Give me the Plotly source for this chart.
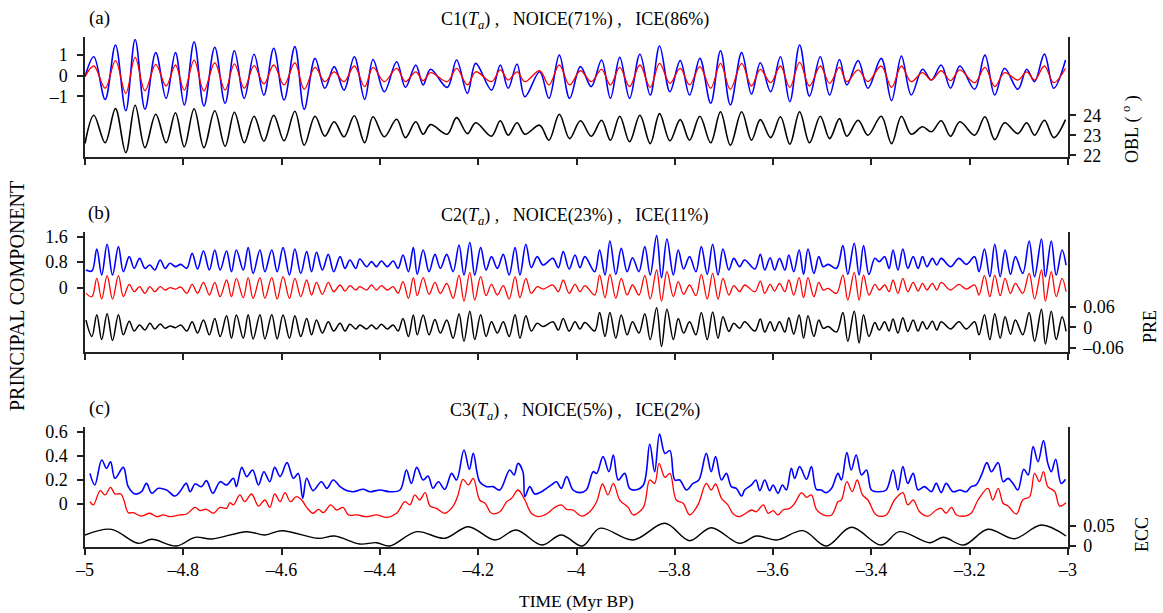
import plotly.graph_objects as go

# ---------------- Panel (a): C1 vs obliquity ----------------
A_TIME = [-5.000, -4.982, -4.959, -4.938, -4.917, -4.898, -4.878, -4.856, -4.835, -4.816, -4.798, -4.778, -4.758, -4.736, -4.715, -4.696, -4.676, -4.656, -4.636, -4.616, -4.595, -4.573, -4.554, -4.532, -4.512, -4.493, -4.473, -4.452, -4.431, -4.414, -4.391, -4.366, -4.348, -4.327, -4.312, -4.297, -4.263, -4.244, -4.222, -4.205, -4.173, -4.155, -4.139, -4.121, -4.105, -4.075, -4.056, -4.035, -4.014, -3.992, -3.970, -3.949, -3.931, -3.912, -3.892, -3.871, -3.850, -3.831, -3.810, -3.789, -3.770, -3.749, -3.727, -3.707, -3.687, -3.664, -3.644, -3.626, -3.605, -3.585, -3.566, -3.546, -3.526, -3.504, -3.485, -3.465, -3.450, -3.427, -3.407, -3.380, -3.359, -3.339, -3.319, -3.296, -3.278, -3.258, -3.239, -3.220, -3.190, -3.169, -3.149, -3.129, -3.102, -3.084, -3.068, -3.048, -3.029, -3.005]
A_OBL = [22.58, 24.00, 22.62, 24.33, 22.13, 24.50, 22.38, 24.05, 22.62, 24.12, 22.42, 24.32, 22.38, 24.22, 22.45, 24.15, 22.62, 23.95, 22.70, 24.00, 22.72, 24.20, 22.50, 23.95, 22.95, 23.67, 22.92, 23.97, 22.62, 23.92, 22.92, 23.80, 22.88, 23.67, 23.05, 23.53, 23.05, 23.88, 23.08, 23.62, 22.95, 23.72, 23.00, 23.62, 23.05, 23.50, 22.75, 24.05, 22.83, 23.72, 22.95, 23.75, 22.75, 23.95, 22.67, 24.00, 22.58, 24.08, 22.72, 23.78, 22.75, 23.95, 22.62, 24.17, 22.50, 24.17, 22.75, 23.78, 22.88, 23.92, 22.55, 24.17, 22.62, 23.95, 22.83, 23.83, 22.95, 23.75, 23.00, 23.95, 22.58, 23.95, 23.05, 23.42, 23.17, 23.72, 22.95, 23.67, 23.00, 23.92, 22.78, 23.62, 23.08, 23.62, 23.00, 23.75, 22.88, 23.78]
A_ICE = [-0.05, 0.47, -0.61, 0.73, -0.86, 0.89, -0.73, 0.55, -0.50, 0.52, -0.70, 0.76, -0.73, 0.63, -0.70, 0.57, -0.61, 0.49, -0.40, 0.52, -0.45, 0.63, -0.66, 0.40, -0.29, 0.19, -0.29, 0.47, -0.53, 0.40, -0.29, 0.36, -0.29, 0.19, -0.24, 0.15, -0.29, 0.36, -0.45, 0.19, -0.29, 0.28, -0.21, 0.19, -0.29, 0.24, -0.45, 0.52, -0.45, 0.24, -0.29, 0.31, -0.45, 0.40, -0.53, 0.52, -0.57, 0.60, -0.37, 0.36, -0.45, 0.44, -0.61, 0.60, -0.66, 0.60, -0.50, 0.31, -0.34, 0.47, -0.57, 0.65, -0.50, 0.47, -0.37, 0.40, -0.29, 0.28, -0.29, 0.47, -0.57, 0.47, -0.29, 0.15, -0.21, 0.24, -0.24, 0.28, -0.34, 0.40, -0.53, 0.15, -0.21, 0.19, -0.21, 0.47, -0.34, 0.36]
A_NOICE = [-0.05, 0.92, -1.15, 1.49, -1.70, 1.76, -1.63, 1.12, -1.10, 1.12, -1.42, 1.65, -1.47, 1.38, -1.34, 1.21, -1.10, 1.04, -0.94, 1.33, -1.18, 1.41, -1.63, 0.84, -0.61, 0.44, -0.70, 0.92, -1.15, 0.79, -0.78, 0.68, -0.57, 0.52, -0.45, 0.31, -0.57, 0.76, -0.86, 0.60, -0.70, 0.52, -0.61, 0.57, -1.02, 0.19, -1.10, 1.00, -1.10, 0.44, -0.53, 0.76, -1.10, 0.89, -1.10, 1.04, -0.94, 1.44, -0.78, 0.73, -0.94, 0.84, -1.34, 1.21, -1.42, 1.12, -0.89, 0.63, -0.78, 0.92, -1.26, 1.49, -0.99, 0.92, -0.94, 0.79, -0.45, 0.73, -0.61, 0.84, -1.21, 0.95, -0.94, 0.31, -0.21, 0.52, -0.61, 0.47, -0.66, 1.00, -0.94, 0.36, -0.66, 0.31, -0.29, 1.05, -0.61, 0.76]

# ---------------- Panel (b): C2 vs precession ----------------
B_TIME = [-4.998, -4.986, -4.976, -4.966, -4.955, -4.944, -4.932, -4.922, -4.910, -4.900,
          -4.889, -4.878, -4.868, -4.858, -4.847, -4.837, -4.827, -4.816, -4.805, -4.793,
          -4.782, -4.771, -4.759, -4.747, -4.736, -4.725, -4.712, -4.702, -4.692, -4.678,
          -4.668, -4.658, -4.644, -4.634, -4.620, -4.609, -4.597, -4.584, -4.573, -4.561,
          -4.549, -4.539, -4.529, -4.517, -4.505, -4.494, -4.481, -4.471, -4.461, -4.449,
          -4.441, -4.427, -4.417, -4.407, -4.397, -4.385, -4.373, -4.363, -4.353, -4.342,
          -4.332, -4.324, -4.312, -4.300, -4.288, -4.277, -4.264, -4.251, -4.239, -4.229,
          -4.217, -4.207, -4.195, -4.184, -4.173, -4.161, -4.149, -4.137, -4.125, -4.115,
          -4.103, -4.092, -4.080, -4.068, -4.048, -4.037, -4.027, -4.015, -4.003, -3.993,
          -3.983, -3.963, -3.953, -3.942, -3.932, -3.920, -3.909, -3.897, -3.886, -3.873,
          -3.861, -3.850, -3.837, -3.827, -3.816, -3.803, -3.793, -3.782, -3.770, -3.757,
          -3.746, -3.734, -3.723, -3.712, -3.702, -3.690, -3.680, -3.668, -3.658, -3.637,
          -3.626, -3.617, -3.606, -3.597, -3.587, -3.576, -3.568, -3.558, -3.547, -3.538,
          -3.529, -3.517, -3.507, -3.498, -3.488, -3.471, -3.458, -3.448, -3.435, -3.425,
          -3.416, -3.405, -3.393, -3.384, -3.373, -3.364, -3.356, -3.346, -3.336, -3.326,
          -3.315, -3.305, -3.296, -3.287, -3.276, -3.267, -3.258, -3.239, -3.222, -3.207,
          -3.190, -3.181, -3.170, -3.159, -3.149, -3.138, -3.128, -3.117, -3.107, -3.092,
          -3.079, -3.068, -3.054, -3.046, -3.034, -3.024, -3.012, -3.004]
B_ICE = [-0.178, -0.282, 0.293, -0.356, 0.377, -0.356, 0.377, -0.282, 0.105, -0.126,
         0.031, -0.178, 0.031, -0.126, 0.031, -0.073, 0.0, -0.042, 0.021, -0.178,
         0.105, -0.178, 0.167, -0.230, 0.167, -0.282, 0.241, -0.282, 0.293, -0.314,
         0.314, -0.335, 0.314, -0.335, 0.314, -0.356, 0.345, -0.335, 0.293, -0.282,
         0.241, -0.230, 0.167, -0.209, 0.167, -0.126, 0.084, -0.105, 0.063, -0.073,
         0.031, -0.073, 0.084, -0.073, 0.063, -0.073, 0.031, -0.178, 0.188, -0.335,
         0.314, -0.251, 0.314, -0.209, 0.167, -0.178, 0.136, -0.335, 0.397, -0.418,
         0.481, -0.387, 0.345, -0.251, 0.105, -0.230, 0.063, -0.356, 0.345, -0.314,
         0.293, -0.178, 0.031, -0.042, 0.084, -0.126, 0.241, -0.178, 0.105, -0.126,
         0.063, -0.230, 0.397, -0.314, 0.418, -0.335, 0.293, -0.230, 0.084, -0.230,
         0.377, -0.356, 0.554, -0.418, 0.502, -0.282, 0.188, -0.209, 0.084, -0.251,
         0.418, -0.356, 0.450, -0.356, 0.293, -0.230, 0.063, -0.126, 0.084, -0.126,
         0.209, -0.178, 0.105, -0.105, 0.136, -0.126, 0.241, -0.230, 0.314, -0.314,
         0.314, -0.282, 0.167, -0.073, -0.021, -0.178, 0.397, -0.387, 0.481, -0.387,
         0.397, -0.230, 0.105, -0.073, 0.084, -0.126, 0.241, -0.178, 0.293, -0.126,
         0.167, -0.105, 0.136, -0.073, 0.136, -0.073, 0.167, -0.073, 0.105, -0.042,
         0.084, -0.230, 0.377, -0.282, 0.397, -0.251, 0.293, -0.178, 0.136, -0.178,
         0.450, -0.356, 0.554, -0.418, 0.502, -0.282, 0.293, -0.126]
B_PRE = [0.021, -0.027, 0.037, -0.036, 0.040, -0.039, 0.037, -0.022, 0.018, -0.011,
         0.007, -0.008, 0.012, -0.005, 0.010, -0.003, 0.004, -0.001, 0.007, -0.011,
         0.016, -0.017, 0.021, -0.022, 0.026, -0.027, 0.034, -0.032, 0.036, -0.032,
         0.037, -0.034, 0.037, -0.034, 0.037, -0.034, 0.036, -0.032, 0.034, -0.027,
         0.026, -0.022, 0.021, -0.017, 0.016, -0.011, 0.012, -0.011, 0.009, -0.005,
         0.007, -0.005, 0.007, -0.005, 0.009, -0.005, 0.007, -0.011, 0.026, -0.027,
         0.036, -0.022, 0.036, -0.022, 0.023, -0.017, 0.021, -0.032, 0.040, -0.041,
         0.047, -0.036, 0.037, -0.027, 0.016, -0.017, 0.016, -0.027, 0.037, -0.032,
         0.034, -0.011, 0.012, 0.002, 0.016, -0.008, 0.026, -0.011, 0.016, -0.005,
         0.014, -0.011, 0.043, -0.027, 0.043, -0.032, 0.036, -0.022, 0.016, -0.017,
         0.040, -0.036, 0.057, -0.056, 0.053, -0.036, 0.026, -0.017, 0.016, -0.022,
         0.043, -0.036, 0.045, -0.032, 0.031, -0.012, 0.012, -0.003, 0.016, -0.011,
         0.024, -0.014, 0.016, -0.011, 0.016, -0.014, 0.028, -0.020, 0.036, -0.032,
         0.034, -0.027, 0.021, -0.003, 0.002, -0.014, 0.043, -0.041, 0.047, -0.046,
         0.037, -0.027, 0.014, -0.008, 0.016, -0.011, 0.024, -0.017, 0.028, -0.012,
         0.021, -0.011, 0.016, -0.005, 0.018, -0.008, 0.016, -0.005, 0.016, -0.005,
         0.016, -0.022, 0.037, -0.036, 0.040, -0.032, 0.031, -0.020, 0.021, -0.022,
         0.043, -0.041, 0.053, -0.049, 0.047, -0.036, 0.031, -0.012]
B_NOICE = [0.554, 0.523, 1.213, 0.397, 1.360, 0.397, 1.287, 0.502, 0.973, 0.607,
           0.920, 0.607, 0.711, 0.554, 0.868, 0.607, 0.764, 0.659, 0.732, 0.607,
           1.077, 0.586, 1.151, 0.554, 1.182, 0.554, 1.151, 0.502, 1.182, 0.554,
           1.255, 0.450, 1.182, 0.502, 1.182, 0.502, 1.255, 0.397, 1.213, 0.450,
           1.130, 0.502, 1.109, 0.554, 1.046, 0.502, 0.973, 0.607, 0.868, 0.607,
           0.900, 0.659, 0.816, 0.659, 0.837, 0.659, 0.837, 0.607, 1.025, 0.502,
           1.255, 0.418, 1.182, 0.502, 1.046, 0.607, 1.046, 0.502, 1.339, 0.397,
           1.423, 0.397, 1.255, 0.554, 0.973, 0.607, 1.046, 0.397, 1.255, 0.397,
           1.360, 0.628, 0.973, 0.711, 0.920, 0.628, 1.130, 0.586, 1.025, 0.628,
           0.973, 0.502, 1.182, 0.397, 1.464, 0.418, 1.234, 0.502, 0.941, 0.502,
           1.287, 0.397, 1.632, 0.314, 1.527, 0.397, 1.182, 0.586, 0.973, 0.502,
           1.287, 0.418, 1.360, 0.397, 1.213, 0.554, 0.920, 0.659, 0.868, 0.586,
           1.046, 0.554, 0.941, 0.554, 0.920, 0.554, 1.025, 0.502, 1.182, 0.418,
           1.213, 0.450, 0.973, 0.659, 0.732, 0.607, 1.318, 0.418, 1.391, 0.397,
           1.318, 0.418, 0.920, 0.816, 0.973, 0.607, 1.182, 0.554, 1.213, 0.607,
           0.973, 0.607, 0.973, 0.659, 0.920, 0.711, 0.920, 0.659, 0.920, 0.732,
           0.973, 0.502, 1.213, 0.345, 1.360, 0.345, 1.182, 0.418, 0.973, 0.450,
           1.464, 0.345, 1.527, 0.345, 1.464, 0.397, 1.182, 0.711]

# ---------------- Panel (c): C3 vs eccentricity ----------------
C_ICE_T = [-4.990, -4.983, -4.969, -4.959, -4.948, -4.939, -4.927, -4.921, -4.912, -4.902, -4.885, -4.868, -4.854, -4.841, -4.827, -4.807, -4.793, -4.776, -4.766, -4.753, -4.739, -4.725, -4.712, -4.705, -4.698, -4.685, -4.675, -4.661, -4.647, -4.634, -4.624, -4.614, -4.603, -4.593, -4.582, -4.570, -4.559, -4.549, -4.536, -4.525, -4.515, -4.500, -4.488, -4.475, -4.464, -4.447, -4.427, -4.407, -4.386, -4.366, -4.349, -4.339,
           -4.329, -4.319, -4.308, -4.298, -4.285, -4.268, -4.251, -4.241, -4.231, -4.220, -4.210, -4.197, -4.186, -4.173, -4.156, -4.142, -4.132, -4.119, -4.105, -4.092, -4.078, -4.061, -4.044, -4.031, -4.020, -4.007, -3.990, -3.973, -3.959, -3.947, -3.936, -3.925, -3.912, -3.895, -3.885, -3.864, -3.851, -3.841, -3.832, -3.820, -3.810, -3.797, -3.783, -3.770, -3.753, -3.736, -3.726, -3.717, -3.705, -3.692, -3.681, -3.668,
           -3.658, -3.644, -3.634, -3.620, -3.610, -3.600, -3.590, -3.580, -3.566, -3.556, -3.542, -3.532, -3.522, -3.512, -3.498, -3.481, -3.468, -3.461, -3.450, -3.439, -3.429, -3.418, -3.407, -3.390, -3.370, -3.353, -3.336, -3.326, -3.315, -3.302, -3.285, -3.268, -3.258, -3.248, -3.237, -3.227, -3.210, -3.197, -3.183, -3.163, -3.153, -3.142, -3.132, -3.122, -3.105, -3.092, -3.078, -3.068, -3.058, -3.050, -3.041, -3.027, -3.017, -3.004]
C_ICE = [0.019, -0.008, 0.111, 0.075, 0.138, 0.083, 0.083, 0.033, -0.072, -0.072, -0.100, -0.077, -0.105, -0.091, -0.105, -0.091, -0.083, -0.028, -0.055, -0.044, -0.077, -0.028, -0.036, 0.011, -0.008, 0.075, 0.019, 0.083, -0.017, 0.033, -0.028, 0.083, 0.019, 0.094, 0.019, 0.061, 0.033, -0.028, -0.077, -0.044, -0.072, -0.008, -0.050, -0.028, -0.091, -0.091, -0.105, -0.091, -0.111, -0.077, 0.019, -0.008,
         0.075, 0.033, 0.094, -0.017, -0.036, -0.077, -0.017, 0.075, 0.205, 0.158, 0.213, 0.033, 0.006, -0.077, -0.064, 0.019, 0.047, 0.116, 0.033, -0.077, -0.105, -0.083, -0.028, -0.008, -0.044, -0.050, -0.100, -0.064, 0.019, 0.166, 0.075, 0.171, 0.033, -0.028, -0.091, -0.028, 0.199, 0.171, 0.337, 0.221, 0.254, 0.033, 0.006, -0.091, -0.008, 0.171, 0.116, 0.166, 0.047, -0.008, -0.083, -0.105,
         -0.083, -0.050, -0.064, -0.008, -0.077, -0.055, -0.091, -0.050, -0.036, 0.006, 0.094, 0.055, 0.075, -0.044, -0.091, -0.091, 0.019, 0.033, 0.185, 0.102, 0.199, 0.075, 0.033, -0.091, -0.091, 0.033, 0.094, -0.008, 0.033, -0.064, -0.100, -0.050, -0.036, -0.077, -0.028, -0.091, -0.100, -0.077, 0.033, 0.130, 0.033, 0.130, 0.006, -0.017, -0.083, 0.033, 0.061, 0.254, 0.185, 0.268, 0.144, 0.102, -0.017, 0.011]
C_NOICE_T = [-4.990, -4.980, -4.966, -4.956, -4.948, -4.939, -4.922, -4.912, -4.898, -4.885, -4.875, -4.864, -4.851, -4.834, -4.817, -4.807, -4.794, -4.786, -4.776, -4.763, -4.753, -4.740, -4.725, -4.712, -4.698, -4.692, -4.681, -4.671, -4.659, -4.647, -4.636, -4.624, -4.614, -4.603, -4.589, -4.576, -4.566, -4.557, -4.549, -4.536, -4.519, -4.508, -4.495, -4.481, -4.468, -4.454, -4.434, -4.420, -4.400, -4.380, -4.359, -4.346, -4.336,
             -4.325, -4.312, -4.302, -4.292, -4.281, -4.268, -4.254, -4.244, -4.229, -4.218, -4.210, -4.197, -4.183, -4.170, -4.156, -4.136, -4.127, -4.119, -4.109, -4.105, -4.095, -4.085, -4.071, -4.061, -4.051, -4.041, -4.031, -4.020, -4.007, -3.993, -3.980, -3.966, -3.959, -3.946, -3.934, -3.925, -3.915, -3.902, -3.892, -3.881, -3.864, -3.851, -3.841, -3.831, -3.820, -3.810, -3.800, -3.790, -3.776, -3.763, -3.751, -3.736, -3.726, -3.717, -3.705, -3.695, -3.685, -3.675, -3.664,
             -3.658, -3.644, -3.635, -3.627, -3.617, -3.607, -3.600, -3.590, -3.581, -3.573, -3.563, -3.556, -3.546, -3.532, -3.522, -3.512, -3.502, -3.492, -3.481, -3.468, -3.461, -3.450, -3.441, -3.431, -3.420, -3.410, -3.400, -3.387, -3.370, -3.356, -3.346, -3.336, -3.326, -3.315, -3.305, -3.292, -3.278, -3.268, -3.258, -3.248, -3.234, -3.220, -3.207, -3.197, -3.187, -3.176, -3.165, -3.156, -3.142, -3.132, -3.122, -3.112, -3.102, -3.090, -3.081, -3.071, -3.061, -3.050, -3.041, -3.034, -3.025, -3.014, -3.005]
C_NOICE = [0.254, 0.158, 0.365, 0.296, 0.351, 0.213, 0.304, 0.144, 0.083, 0.102, 0.171, 0.089, 0.130, 0.116, 0.066, 0.102, 0.171, 0.102, 0.166, 0.144, 0.194, 0.089, 0.185, 0.158, 0.213, 0.144, 0.304, 0.227, 0.282, 0.158, 0.268, 0.185, 0.304, 0.227, 0.343, 0.213, 0.254, 0.047, 0.213, 0.111, 0.185, 0.130, 0.199, 0.144, 0.111, 0.102, 0.122, 0.102, 0.116, 0.102, 0.116, 0.282, 0.171,
           0.304, 0.199, 0.232, 0.130, 0.185, 0.122, 0.254, 0.199, 0.448, 0.288, 0.420, 0.185, 0.144, 0.144, 0.116, 0.282, 0.241, 0.337, 0.268, 0.061, 0.144, 0.083, 0.102, 0.130, 0.158, 0.185, 0.130, 0.227, 0.116, 0.094, 0.116, 0.268, 0.254, 0.393, 0.268, 0.407, 0.199, 0.254, 0.130, 0.116, 0.158, 0.498, 0.268, 0.581, 0.420, 0.443, 0.199, 0.199, 0.116, 0.171, 0.199, 0.420, 0.268, 0.393, 0.199, 0.254, 0.144, 0.130, 0.066,
           0.116, 0.158, 0.199, 0.111, 0.199, 0.111, 0.158, 0.089, 0.158, 0.116, 0.296, 0.213, 0.310, 0.205, 0.310, 0.122, 0.116, 0.094, 0.130, 0.254, 0.199, 0.426, 0.282, 0.407, 0.241, 0.282, 0.116, 0.102, 0.116, 0.282, 0.116, 0.310, 0.171, 0.254, 0.116, 0.144, 0.102, 0.171, 0.094, 0.171, 0.102, 0.116, 0.102, 0.144, 0.158, 0.241, 0.343, 0.268, 0.343, 0.185, 0.213, 0.171, 0.116, 0.288, 0.241, 0.476, 0.351, 0.526, 0.337, 0.268, 0.371, 0.171, 0.205]
C_ECC_T = [-5.000, -4.946, -4.892, -4.864, -4.814, -4.776, -4.742, -4.671, -4.634, -4.600, -4.525, -4.492, -4.441, -4.407, -4.380, -4.325, -4.268, -4.220, -4.166, -4.123, -4.071, -4.031, -3.988, -3.953, -3.885, -3.820, -3.770, -3.726, -3.668, -3.634, -3.593, -3.539, -3.492, -3.441, -3.380, -3.343, -3.281, -3.254, -3.212, -3.163, -3.109, -3.054, -3.004]
C_ECC = [0.0275, 0.0417, 0.0067, 0.0167, 0.0, 0.0217, 0.0175, 0.0358, 0.0275, 0.0383, 0.0192, 0.025, 0.005, 0.0083, 0.0, 0.0358, 0.0192, 0.0483, 0.015, 0.04, 0.0025, 0.0275, 0.0, 0.0442, 0.015, 0.0567, 0.0133, 0.0458, 0.0067, 0.025, 0.015, 0.0383, 0.0, 0.0467, 0.0025, 0.0358, 0.0083, 0.0217, 0.0025, 0.0417, 0.0183, 0.0525, 0.025]

X_TICKS = [-5, -4.8, -4.6, -4.4, -4.2, -4, -3.8, -3.6, -3.4, -3.2, -3]
DASH = "\u2013"
X_TICKTEXT = [DASH + "5", DASH + "4.8", DASH + "4.6", DASH + "4.4", DASH + "4.2", DASH + "4",
              DASH + "3.8", DASH + "3.6", DASH + "3.4", DASH + "3.2", DASH + "3"]

assert len(A_TIME) == len(A_OBL) == len(A_ICE) == len(A_NOICE)
assert len(B_TIME) == len(B_ICE) == len(B_PRE) == len(B_NOICE)
assert len(C_ICE_T) == len(C_ICE)
assert len(C_NOICE_T) == len(C_NOICE)
assert len(C_ECC_T) == len(C_ECC)

FONT = "Liberation Serif, Times New Roman, serif"
AX = "#222222"
TS = 18
fig = go.Figure()


def add(x, y, color, width, xa, ya):
    fig.add_trace(go.Scatter(x=x, y=y, mode="lines",
                             line=dict(color=color, width=width, shape="spline", smoothing=1.0),
                             xaxis=xa, yaxis=ya, hoverinfo="skip", showlegend=False))


add(A_TIME, A_NOICE, "#0000ff", 1.6, "x", "y")
add(A_TIME, A_ICE, "#ff0000", 1.3, "x", "y")
add(A_TIME, A_OBL, "#000000", 1.6, "x", "y2")

add(B_TIME, B_NOICE, "#0000ff", 1.6, "x2", "y3")
add(B_TIME, B_ICE, "#ff0000", 1.3, "x2", "y3")
add(B_TIME, B_PRE, "#000000", 1.5, "x2", "y4")

add(C_NOICE_T, C_NOICE, "#0000ff", 1.6, "x3", "y5")
add(C_ICE_T, C_ICE, "#ff0000", 1.3, "x3", "y5")
add(C_ECC_T, C_ECC, "#000000", 1.4, "x3", "y6")

H = 510.0
def dom(top_px, bot_px):
    return [(547 - bot_px) / H, (547 - top_px) / H]

base_axis = dict(showline=True, linecolor=AX, linewidth=1.5, ticks="outside", ticklen=6,
                 tickcolor=AX, tickwidth=1.5, showgrid=False, zeroline=False,
                 tickfont=dict(family=FONT, size=TS, color="black"))

xcommon = dict(base_axis, range=[-5, -3], tickvals=X_TICKS, ticktext=X_TICKTEXT, domain=[0, 1])

fig.update_layout(
    width=1163, height=613,
    margin=dict(l=85, r=95, t=37, b=66),
    paper_bgcolor="white", plot_bgcolor="white",
    font=dict(family=FONT, size=TS, color="black"),
    xaxis=dict(xcommon, anchor="y", showticklabels=False),
    xaxis2=dict(xcommon, anchor="y3", showticklabels=False),
    xaxis3=dict(xcommon, anchor="y5", showticklabels=True),
    yaxis=dict(base_axis, domain=dom(37, 157), anchor="x", range=[-3.947, 1.879],
               tickvals=[-1, 0, 1], ticktext=[DASH + "1", "0", "1"], ticklabelstandoff=6),
    yaxis2=dict(base_axis, overlaying="y", side="right", anchor="x", range=[21.91, 27.91],
                tickvals=[22, 23, 24], ticktext=["22", "23", "24"], ticklabelstandoff=4),
    yaxis3=dict(base_axis, domain=dom(232, 352), anchor="x2", range=[-2.016, 1.746],
                tickvals=[0, 0.8, 1.6], ticktext=["0", "0.8", "1.6"], ticklabelstandoff=6),
    yaxis4=dict(base_axis, overlaying="y3", side="right", anchor="x2", range=[-0.0723, 0.2789],
                tickvals=[-0.06, 0, 0.06], ticktext=[DASH + "0.06", "0", "0.06"], ticklabelstandoff=4),
    yaxis5=dict(base_axis, domain=dom(427, 547), anchor="x3", range=[-0.357, 0.639],
                tickvals=[0, 0.2, 0.4, 0.6], ticktext=["0", "0.2", "0.4", "0.6"], ticklabelstandoff=6),
    yaxis6=dict(base_axis, overlaying="y5", side="right", anchor="x3", range=[-0.0025, 0.2975],
                tickvals=[0, 0.05], ticktext=["0", "0.05"], ticklabelstandoff=4),
)


def px_x(p):
    return (p - 85) / 983.0


def px_y(p):
    return (547 - p) / H


ann = []
def note(text, x, y, angle=0, size=TS):
    ann.append(dict(text=text, x=px_x(x), y=px_y(y), xref="paper", yref="paper",
                    showarrow=False, textangle=angle, xanchor="center", yanchor="middle",
                    font=dict(family=FONT, size=size, color="black")))

SP = "&nbsp;"
note("(a)", 99, 18, size=19)
note("(b)", 99, 213, size=19)
note("(c)", 99, 408, size=19)
note("C1(<i>T</i><sub><i>a</i></sub>)" + SP + "," + SP * 3 + "NOICE(71%)" + SP + "," + SP * 3 + "ICE(86%)", 575, 21)
note("C2(<i>T</i><sub><i>a</i></sub>)" + SP + "," + SP * 3 + "NOICE(23%)" + SP + "," + SP * 3 + "ICE(11%)", 575, 216)
note("C3(<i>T</i><sub><i>a</i></sub>)" + SP + "," + SP * 3 + "NOICE(5%)" + SP + "," + SP * 3 + "ICE(2%)", 575, 411)
note("TIME (Myr BP)", 576, 601, size=17.5)
note("PRINCIPAL COMPONENT", 17, 296, angle=-90, size=20)
note("OBL" + SP + "(" + SP + "<sup>o</sup>" + SP + ")", 1131, 129, angle=-90)
note("PRE", 1150, 327, angle=-90)
note("ECC", 1142, 535, angle=-90)
fig.update_layout(annotations=ann)

fig.write_html("out.html")
